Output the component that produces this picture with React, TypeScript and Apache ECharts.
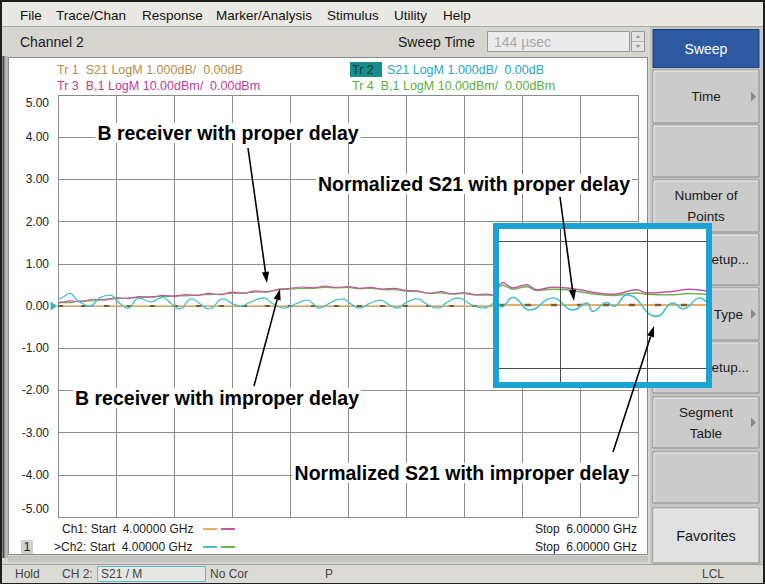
import React, { useEffect, useRef } from "react";
import * as echarts from "echarts";

// ---------- data ----------
const startGHz = 4.0;
const stopGHz = 6.0;
const divGHz = 0.2;
const yMin = -5;
const yMax = 5;
const yDiv = 1;

// Tr 3 (magenta) and Tr 4 (green): B receiver traces
const bFreq = [4.00, 4.04, 4.08, 4.12, 4.16, 4.20, 4.24, 4.28, 4.32, 4.36, 4.40, 4.44, 4.48, 4.52, 4.56, 4.60, 4.64, 4.68, 4.72, 4.76, 4.80, 4.84, 4.88, 4.92, 4.96, 5.00, 5.04, 5.08, 5.12, 5.16, 5.20, 5.24, 5.28, 5.32, 5.36, 5.40, 5.44, 5.48, 5.50];
const tr3Values = [0.06, 0.12, 0.10, 0.16, 0.14, 0.20, 0.18, 0.22, 0.21, 0.25, 0.23, 0.27, 0.25, 0.30, 0.27, 0.33, 0.30, 0.36, 0.33, 0.40, 0.42, 0.45, 0.43, 0.47, 0.44, 0.46, 0.42, 0.44, 0.40, 0.42, 0.37, 0.36, 0.30, 0.34, 0.29, 0.32, 0.27, 0.28, 0.26];
const tr4Values = [0.10, 0.08, 0.12, 0.12, 0.16, 0.17, 0.19, 0.20, 0.22, 0.22, 0.24, 0.24, 0.26, 0.27, 0.28, 0.30, 0.31, 0.33, 0.34, 0.38, 0.40, 0.42, 0.42, 0.44, 0.43, 0.44, 0.41, 0.42, 0.39, 0.39, 0.35, 0.34, 0.30, 0.31, 0.28, 0.29, 0.26, 0.26, 0.25];

// Tr 2 (cyan): normalized S21 with improper delay
const tr2Freq = [4.00, 4.02, 4.04, 4.07, 4.11, 4.145, 4.18, 4.21, 4.24, 4.28, 4.32, 4.36, 4.39, 4.42, 4.46, 4.49, 4.52, 4.57, 4.60, 4.63, 4.66, 4.71, 4.74, 4.78, 4.82, 4.86, 4.88, 4.90, 4.945, 4.98, 5.01, 5.04, 5.075, 5.11, 5.14, 5.17, 5.20, 5.24, 5.27, 5.31, 5.34, 5.38, 5.42, 5.465, 5.505];
const tr2Values = [0.15, 0.22, 0.30, 0.12, 0.00, 0.20, 0.26, 0.08, -0.05, 0.19, 0.10, 0.20, 0.06, -0.07, 0.17, 0.05, -0.07, 0.17, 0.06, 0.00, 0.08, 0.19, 0.06, -0.05, 0.05, 0.14, 0.05, -0.05, 0.10, 0.17, 0.05, -0.05, 0.06, 0.14, 0.04, -0.05, 0.08, 0.17, 0.05, -0.05, 0.08, 0.19, 0.05, -0.05, 0.10];

// Tr 1 (orange): normalized S21 with proper delay
const tr1Freq = [4.00, 5.50];
const tr1Values = [0.00, 0.00];

// magnified inset
const insetXMin = 5.46;
const insetXMax = 5.936;
const insetYMin = -1.216;
const insetYMax = 1.2;
const insetGridX = [5.6, 5.8];
const insetGridY = [1, -1];
const insetBFreq = [5.4575, 5.469, 5.492, 5.524, 5.547, 5.584, 5.616, 5.646, 5.685, 5.722, 5.777, 5.800, 5.853, 5.899, 5.936];
const insetTr3 = [0.29, 0.35, 0.27, 0.32, 0.24, 0.28, 0.27, 0.24, 0.19, 0.17, 0.24, 0.19, 0.21, 0.25, 0.22];
const insetTr4 = [0.27, 0.31, 0.25, 0.29, 0.23, 0.25, 0.24, 0.21, 0.17, 0.15, 0.19, 0.17, 0.16, 0.18, 0.17];
const insetTr2Freq = [5.4575, 5.466, 5.492, 5.531, 5.584, 5.630, 5.662, 5.676, 5.708, 5.724, 5.754, 5.823, 5.860, 5.883, 5.922, 5.936];
const insetTr2 = [0.05, -0.03, 0.12, -0.08, 0.11, -0.08, 0.03, -0.10, 0.04, -0.02, 0.16, -0.18, 0.03, -0.06, 0.11, 0.05];
const insetTr1Freq = [5.46, 5.936];
const insetTr1 = [0.00, 0.00];

const menuItems = ["File", "Trace/Chan", "Response", "Marker/Analysis", "Stimulus", "Utility", "Help"];
const traceLegend = [
  "Tr 1  S21 LogM 1.000dB/  0.00dB",
  "Tr 3  B,1 LogM 10.00dBm/  0.00dBm",
  "Tr 2",
  "S21 LogM 1.000dB/  0.00dB",
  "Tr 4  B,1 LogM 10.00dBm/  0.00dBm",
];

const zip = (xs: number[], ys: number[]) => xs.map((x, i) => [x, ys[i]]);

const FONT = '"Liberation Sans", Arial, sans-serif';
const C_TR1 = "#e6b064";
const C_TR1D = "#7a5c3a";
const C_TR2 = "#4cc0d2";
const C_TR3 = "#c4579f";
const C_TR4 = "#6ab44c";

function txt(x: number, y: number, text: string, o: any = {}) {
  return {
    type: "text",
    x,
    y,
    z: o.z ?? 5,
    scaleX: o.scaleX ?? 1,
    style: {
      text,
      fill: o.color ?? "#1a1a1a",
      fontSize: o.size ?? 12.5,
      fontFamily: FONT,
      fontWeight: o.weight ?? "normal",
      align: o.align ?? "left",
      verticalAlign: "middle",
      backgroundColor: o.bg,
      padding: o.pad,
    },
  };
}

function rect(x: number, y: number, w: number, h: number, fill: string, stroke: string | null, z: number, lw = 1) {
  return {
    type: "rect",
    z,
    shape: { x, y, width: w, height: h },
    style: { fill, stroke: stroke ?? undefined, lineWidth: stroke ? lw : 0 },
  };
}

function arrow(x1: number, y1: number, x2: number, y2: number) {
  const dx = x2 - x1;
  const dy = y2 - y1;
  const L = Math.hypot(dx, dy);
  const ux = dx / L;
  const uy = dy / L;
  const hl = 11;
  const hw = 3.6;
  const bx = x2 - ux * hl;
  const by = y2 - uy * hl;
  return [
    { type: "line", z: 30, shape: { x1, y1, x2: bx, y2: by }, style: { stroke: "#000", lineWidth: 1.6 } },
    {
      type: "polygon",
      z: 30,
      shape: { points: [[x2, y2], [bx - uy * hw, by + ux * hw], [bx + uy * hw, by - ux * hw]] },
      style: { fill: "#000" },
    },
  ];
}

function button(y: number, h: number, lines: string[], o: any = {}) {
  const els: any[] = [];
  els.push(rect(653, y, 106, h, o.fill ?? "#cbcbcb", "#8e8e8e", -5));
  els.push({
    type: "polyline",
    z: -5,
    shape: { points: [[654, y + h - 1], [654, y + 1], [758, y + 1]] },
    style: { stroke: "#efefef", lineWidth: 1, fill: null },
  });
  const cy = y + h / 2;
  const n = lines.length;
  lines.forEach((s, i) => {
    const yy = cy + (i - (n - 1) / 2) * 21;
    els.push(txt(o.tx ?? 706, yy, s, { z: -4, size: o.size ?? 13.5, color: o.color ?? "#1a1a1a", align: o.align ?? "center" }));
  });
  if (o.arrow) {
    els.push({
      type: "polygon",
      z: -4,
      shape: { points: [[751, cy - 5], [751, cy + 5], [756, cy]] },
      style: { fill: "#8a8a8a" },
    });
  }
  return els;
}

function buildGraphic() {
  const g: any[] = [];
  // window
  g.push(rect(1, 1, 763, 582, "#d6d5d0", "#1e1e1e", -10, 2));
  // menu bar
  g.push(rect(2, 2, 761, 24, "#e9e8e3", null, -9));
  g.push({ type: "line", z: -9, shape: { x1: 2, y1: 26.5, x2: 763, y2: 26.5 }, style: { stroke: "#a9a9a9", lineWidth: 1 } });
  const menuX = [20, 56, 142, 216, 327, 394, 443];
  menuItems.forEach((m, i) => g.push(txt(menuX[i], 15, m, { size: 13.5, z: -8, color: "#111" })));
  // channel row
  g.push(txt(20, 42, "Channel 2", { size: 14, z: -8 }));
  g.push(txt(398, 42, "Sweep Time", { size: 14, z: -8 }));
  g.push(rect(487.5, 31.5, 142, 20, "#ebebeb", "#9a9a9a", -8));
  g.push(txt(494, 42, "144 \u00b5sec", { size: 14, z: -7, color: "#a8a8a8" }));
  g.push(rect(631.5, 31.5, 13, 20, "#e4e4e4", "#9a9a9a", -8));
  g.push({ type: "line", z: -7, shape: { x1: 632, y1: 41.5, x2: 644, y2: 41.5 }, style: { stroke: "#b0b0b0" } });
  g.push({ type: "polygon", z: -7, shape: { points: [[635.5, 38], [640.5, 38], [638, 35]] }, style: { fill: "#9a9a9a" } });
  g.push({ type: "polygon", z: -7, shape: { points: [[635.5, 45], [640.5, 45], [638, 48]] }, style: { fill: "#9a9a9a" } });
  // plot panel
  g.push(rect(2.5, 56, 2, 502, "#444", null, -9));
  g.push(rect(5, 56, 3, 502, "#b8b8b4", null, -9));
  g.push(rect(8.5, 57.5, 639, 497, "#ffffff", "#8a8a8a", -9));
  g.push(rect(8, 556, 640, 6, "#c4c4c0", null, -9));
  // right panel buttons
  g.push(rect(650, 27, 113, 538, "#c4c4c2", null, -9));
  g.push(rect(653, 29.5, 106, 38, "#2d59a2", "#1e3f7a", -5));
  g.push(txt(706, 48.5, "Sweep", { z: -4, size: 14, color: "#ffffff", align: "center" }));
  g.push(...button(70, 53, ["Time"], { arrow: true }));
  g.push(...button(125, 52, []));
  g.push(...button(180, 52, ["Number of", "Points"]));
  g.push(...button(234, 51, ["Sweep Setup..."], { align: "right", tx: 749 }));
  g.push(...button(288, 52, ["Sweep Type"], { align: "right", tx: 743, arrow: true }));
  g.push(...button(342, 51, ["Segment Setup..."], { align: "right", tx: 749 }));
  g.push(...button(397, 51, ["Segment", "Table"], { arrow: true }));
  g.push(...button(452, 51, []));
  g.push(...button(508, 55, ["Favorites"], { fill: "#e1e1e1", size: 14.5 }));
  // status bar
  g.push(rect(2, 564, 761, 19, "#dcdbd6", null, -9));
  g.push({ type: "line", z: -8, shape: { x1: 2, y1: 564.5, x2: 763, y2: 564.5 }, style: { stroke: "#a0a0a0" } });
  g.push(txt(15, 574, "Hold", { size: 12, color: "#444", z: -7 }));
  g.push(txt(62, 574, "CH 2:", { size: 12, color: "#444", z: -7 }));
  g.push(rect(97.5, 566.5, 108, 15, "#e6e6e2", "#56bfd0", -7));
  g.push(txt(101, 574, "S21 / M", { size: 12, color: "#444", z: -6 }));
  g.push(txt(210, 574, "No Cor", { size: 12, color: "#444", z: -7 }));
  g.push(txt(325, 574, "P", { size: 12, color: "#444", z: -7 }));
  g.push(txt(702, 574, "LCL", { size: 12, color: "#444", z: -7 }));
  // trace legend
  g.push(txt(57, 70, traceLegend[0], { color: "#b88c48" }));
  g.push(txt(57, 86, traceLegend[1], { color: "#c23c98" }));
  g.push(rect(350, 62, 32, 15, "#178d8d", null, 4));
  g.push(txt(352, 70, traceLegend[2], { color: "#0b3838" }));
  g.push(txt(387, 70, traceLegend[3], { color: "#27a6c6" }));
  g.push(txt(352, 86, traceLegend[4], { color: "#5aae3e" }));
  // channel start/stop
  g.push(txt(62, 529, "Ch1: Start  4.00000 GHz", { size: 12 }));
  g.push(txt(54, 547, ">Ch2: Start  4.00000 GHz", { size: 12 }));
  g.push({ type: "line", z: 5, shape: { x1: 203, y1: 529, x2: 217, y2: 529 }, style: { stroke: C_TR1, lineWidth: 2 } });
  g.push({ type: "line", z: 5, shape: { x1: 221, y1: 529, x2: 235, y2: 529 }, style: { stroke: C_TR3, lineWidth: 2 } });
  g.push({ type: "line", z: 5, shape: { x1: 203, y1: 547, x2: 217, y2: 547 }, style: { stroke: C_TR2, lineWidth: 2 } });
  g.push({ type: "line", z: 5, shape: { x1: 221, y1: 547, x2: 235, y2: 547 }, style: { stroke: C_TR4, lineWidth: 2 } });
  g.push(rect(21, 540, 12, 14, "#d0d0d0", null, 4));
  g.push(txt(27, 547, "1", { size: 12, align: "center" }));
  g.push(txt(637, 529, "Stop  6.00000 GHz", { size: 12, align: "right" }));
  g.push(txt(637, 547, "Stop  6.00000 GHz", { size: 12, align: "right" }));
  // inset white background and border
  g.push(rect(496, 226, 213, 159, "#ffffff", null, 1));
  g.push({
    type: "rect",
    z: 25,
    shape: { x: 496, y: 226, width: 213, height: 159 },
    style: { fill: null, stroke: "#1ba3d6", lineWidth: 6 },
  });
  // annotations
  const ann = { size: 19.5, weight: "bold", color: "#000", align: "center", z: 20, bg: "#ffffff", pad: [0, 2] };
  g.push(txt(228, 133, "B receiver with proper delay", ann));
  g.push(txt(474, 184, "Normalized S21 with proper delay", ann));
  g.push(txt(217, 398, "B receiver with improper delay", ann));
  g.push(txt(462, 473, "Normalized S21 with improper delay", ann));
  g.push(...arrow(248, 148, 267, 283));
  g.push(...arrow(254, 386, 280, 289));
  g.push(...arrow(560, 197, 574, 301));
  g.push(...arrow(613, 452, 654, 326));
  return g;
}

function lineSeries(data: number[][], color: string, width: number, idx: number, extra: any = {}) {
  return {
    type: "line",
    xAxisIndex: idx,
    yAxisIndex: idx,
    data,
    symbol: "none",
    silent: true,
    lineStyle: { color, width, ...(extra.lineStyle || {}) },
    smooth: extra.smooth ?? false,
    z: 2,
    ...(extra.rest || {}),
  };
}

export default function App() {
  const ref = useRef<HTMLDivElement>(null);
  useEffect(() => {
    if (!ref.current) return;
    const chart = echarts.init(ref.current, undefined, { renderer: "svg" });
    const labelStyle = { fontSize: 12, color: "#222", fontFamily: FONT };
    chart.setOption({
      animation: false,
      backgroundColor: "#d6d5d0",
      grid: [
        { left: 58, top: 95, width: 580, height: 422 },
        { left: 499, top: 229, width: 207, height: 153 },
      ],
      xAxis: [
        {
          type: "value",
          gridIndex: 0,
          min: startGHz,
          max: stopGHz,
          interval: divGHz,
          axisLine: { show: false },
          axisTick: { show: false },
          axisLabel: { show: false },
          splitLine: { show: true, lineStyle: { color: "#8c8c8c", width: 1 } },
        },
        {
          type: "value",
          gridIndex: 1,
          min: insetXMin,
          max: insetXMax,
          show: false,
          splitLine: { show: false },
        },
      ],
      yAxis: [
        {
          type: "value",
          gridIndex: 0,
          min: yMin,
          max: yMax,
          interval: yDiv,
          axisLine: { show: false },
          axisTick: { show: false },
          splitLine: { show: true, lineStyle: { color: "#8c8c8c", width: 1 } },
          axisLabel: {
            margin: 9,
            ...labelStyle,
            formatter: (v: number) => {
              const s = v.toFixed(2);
              if (Math.abs(v - yMax) < 1e-9) return `{top|${s}}`;
              if (Math.abs(v - yMin) < 1e-9) return `{bot|${s}}`;
              return s;
            },
            rich: {
              top: { ...labelStyle, padding: [16, 0, 0, 0] },
              bot: { ...labelStyle, padding: [0, 0, 16, 0] },
            },
          },
        },
        {
          type: "value",
          gridIndex: 1,
          min: insetYMin,
          max: insetYMax,
          show: false,
          splitLine: { show: false },
        },
      ],
      series: [
        lineSeries(zip(tr1Freq, tr1Values), C_TR1, 1.6, 0),
        lineSeries(zip(tr1Freq, tr1Values), C_TR1D, 2, 0, { lineStyle: { type: [5, 18] } }),
        lineSeries(zip(bFreq, tr4Values), C_TR4, 1.2, 0, { smooth: 0.3 }),
        lineSeries(zip(bFreq, tr3Values), C_TR3, 1.2, 0, { smooth: 0.3 }),
        lineSeries(zip(tr2Freq, tr2Values), C_TR2, 1.3, 0, { smooth: 0.5 }),
        {
          type: "scatter",
          xAxisIndex: 0,
          yAxisIndex: 0,
          data: [[startGHz, 0]],
          symbol: "triangle",
          symbolRotate: -90,
          symbolSize: [9, 7],
          symbolOffset: [-4, 0],
          clip: false,
          silent: true,
          itemStyle: { color: "#16a0a0" },
          z: 3,
        },
        lineSeries(zip(insetTr1Freq, insetTr1), C_TR1, 1.8, 1, {
          rest: {
            markLine: {
              silent: true,
              symbol: "none",
              label: { show: false },
              lineStyle: { color: "#4a4a4a", width: 1, type: "solid" },
              data: [
                ...insetGridY.map((v) => ({ yAxis: v })),
                ...insetGridX.map((v) => ({ xAxis: v })),
              ],
            },
          },
        }),
        lineSeries(zip(insetTr1Freq, insetTr1), C_TR1D, 2.4, 1, { lineStyle: { type: [6, 20] } }),
        lineSeries(zip(insetBFreq, insetTr4), C_TR4, 1.5, 1, { smooth: 0.4 }),
        lineSeries(zip(insetBFreq, insetTr3), C_TR3, 1.5, 1, { smooth: 0.4 }),
        lineSeries(zip(insetTr2Freq, insetTr2), C_TR2, 1.6, 1, { smooth: 0.5 }),
      ],
      graphic: { elements: buildGraphic() },
    });
    return () => chart.dispose();
  }, []);
  return (
    <div
      ref={ref}
      style={{ position: "fixed", left: 0, top: 0, width: 765, height: 584 }}
    />
  );
}
